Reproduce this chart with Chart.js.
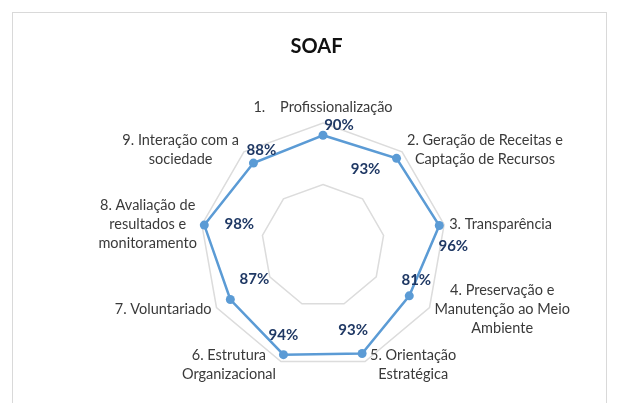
<!DOCTYPE html>
<html>
<head>
<meta charset="utf-8">
<script src="https://cdn.jsdelivr.net/npm/chart.js@4.4.1/dist/chart.umd.min.js"></script>
<style>
  html, body { margin:0; padding:0; background:#fff; }
  #wrap { position:relative; width:618px; height:403px; overflow:hidden; }
  #moldura { position:absolute; left:12px; top:12px; width:595px; height:430px; border:1px solid #d9d9d9; box-sizing:border-box; }
  canvas { position:absolute; left:0; top:0; }
</style>
</head>
<body>
<div id="wrap">
  <div id="moldura"></div>
  <canvas id="graficoSOAF" width="618" height="403"></canvas>
</div>
<script>
// dados
var titulo = 'SOAF';
var categorias = [
  '1.    Profissionalização',
  '2. Geração de Receitas e\nCaptação de Recursos',
  '3. Transparência',
  '4. Preservação e\nManutenção ao Meio\nAmbiente',
  '5. Orientação\nEstratégica',
  '6. Estrutura\nOrganizacional',
  '7. Voluntariado',
  '8. Avaliação de\nresultados e\nmonitoramento',
  '9. Interação com a\nsociedade'
];
var valores = [90, 93, 96, 81, 93, 94, 87, 98, 88];
var escalaMin = 0;
var escalaMax = 100;
var passo = 50;

// deslocamento dos rótulos de dados (colocados à mão no original)
var deslocRotulos = [[16,-10],[-31,11],[14,21],[7,-16],[-9,-23],[0,-19],[24,-20],[35,-1],[8,-13]];

var azul = '#5B9BD5';

var rotulosPlugin = {
  id: 'rotulos',
  afterDatasetsDraw: function(chart){
    var ctx = chart.ctx;
    var sc = chart.scales.r;
    var meta = chart.getDatasetMeta(0);
    ctx.save();

    // título
    ctx.font = 'bold 20px Lato';
    ctx.fillStyle = '#111111';
    ctx.textAlign = 'center';
    ctx.textBaseline = 'alphabetic';
    ctx.fillText(titulo, 316.5, 52.5);

    // nomes dos eixos
    ctx.font = '14.5px Lato';
    ctx.fillStyle = '#3a3a3a';
    ctx.textBaseline = 'middle';
    var lh = 19;
    categorias.forEach(function(lab, i){
      var linhas = lab.split('\n');
      var w = Math.max.apply(null, linhas.map(function(l){ return ctx.measureText(l).width; }));
      var h = linhas.length * lh;
      var p = sc.getPointPosition(i, sc.drawingArea);
      var c = Math.cos(p.angle), s = Math.sin(p.angle);
      var cx, cy;
      if (Math.abs(c) < 0.01 && s < 0) { cx = p.x; cy = p.y - 6 - h/2; }
      else { cx = c > 0 ? p.x + 5 + w/2 : p.x - 5 - w/2; cy = p.y + 3*s; }
      linhas.forEach(function(l, k){
        ctx.fillText(l, cx, cy - h/2 + lh/2 + k*lh);
      });
    });

    // valores
    ctx.font = 'bold 15px Lato';
    ctx.fillStyle = '#1F3864';
    meta.data.forEach(function(pt, i){
      ctx.fillText(valores[i] + '%', pt.x + deslocRotulos[i][0], pt.y + deslocRotulos[i][1]);
    });
    ctx.restore();
  }
};

var ctx = document.getElementById('graficoSOAF');
var grafico = new Chart(ctx, {
  type: 'radar',
  data: {
    labels: categorias,
    datasets: [{
      label: titulo,
      data: valores,
      borderColor: azul,
      backgroundColor: azul,
      borderWidth: 2.5,
      fill: false,
      pointRadius: 4.5,
      pointBackgroundColor: azul,
      pointBorderWidth: 0
    }]
  },
  options: {
    responsive: false,
    animation: false,
    devicePixelRatio: 1,
    layout: { padding: { left: 200, right: 172, top: 123, bottom: 34 } },
    plugins: {
      legend: { display: false },
      title: { display: false },
      tooltip: { enabled: false }
    },
    scales: {
      r: {
        min: escalaMin,
        max: escalaMax,
        ticks: { display: false, stepSize: passo },
        grid: { color: '#dcdcdc', lineWidth: 1.5 },
        angleLines: { display: false },
        pointLabels: { display: false }
      }
    }
  },
  plugins: [rotulosPlugin]
});
</script>
</body>
</html>
